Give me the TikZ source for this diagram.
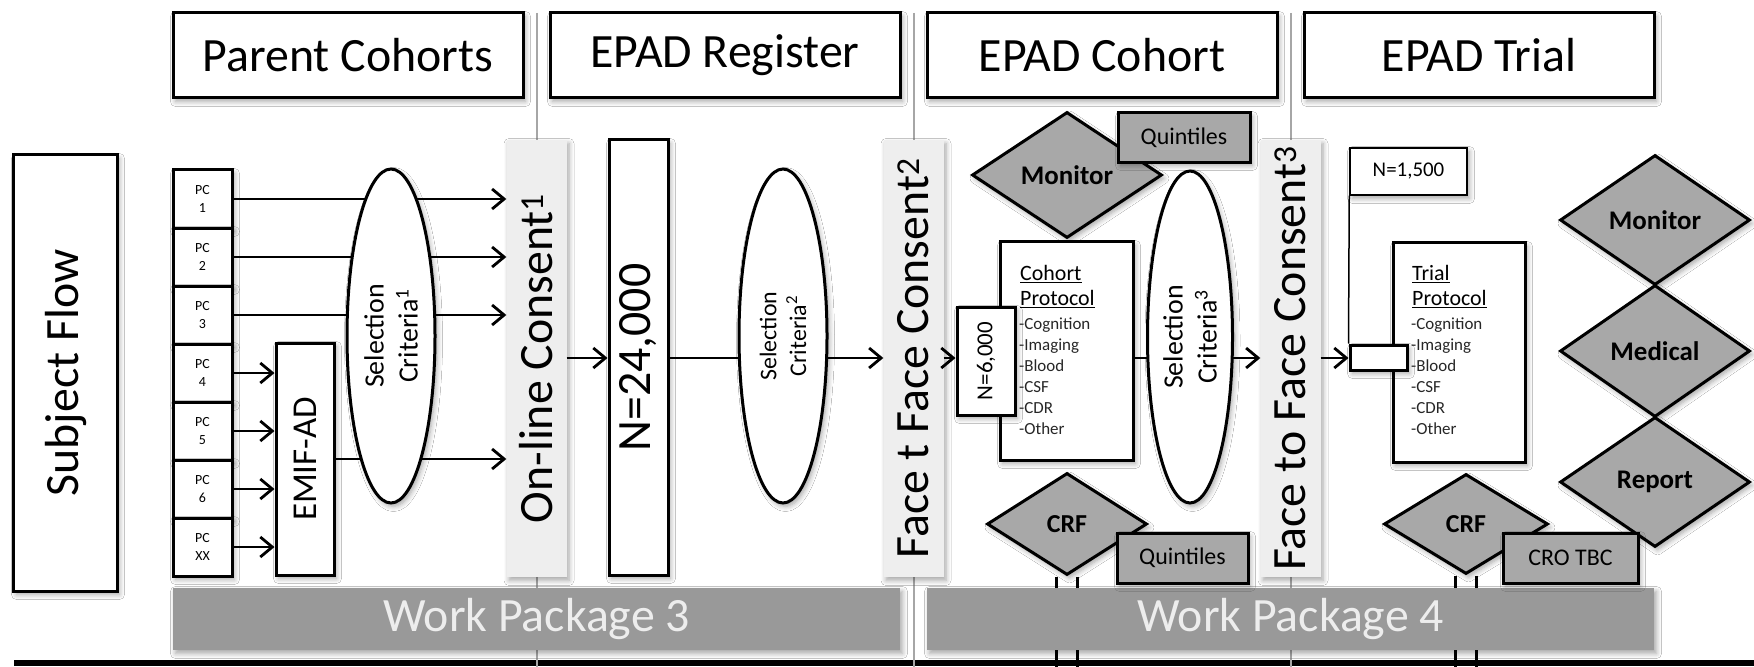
\documentclass[tikz,border=0pt]{standalone}
\usepackage{fontspec}
\setmainfont{Carlito}
\usetikzlibrary{arrows.meta,shapes.geometric,shadows.blur}
\definecolor{dgray}{HTML}{A8A8A8}
\definecolor{wpgray}{HTML}{999999}
\definecolor{cgray}{HTML}{EEEEEE}
\definecolor{sepgray}{HTML}{A6A6A6}
\begin{document}
\begin{tikzpicture}[x=1bp,y=-1bp,
  myshadow/.style={blur shadow={shadow xshift=2.5bp,shadow yshift=-3.5bp,shadow blur radius=5bp,shadow blur steps=6,shadow opacity=35}},
  bigtext/.style={font=\fontsize{48}{56}\selectfont},
  tbox/.style={draw=black,line width=3bp,fill=white,inner sep=0pt,myshadow},
  hdrbox/.style={tbox,bigtext,minimum width=350bp,minimum height=85bp},
  consbox/.style={fill=cgray,draw=none,rotate=90,bigtext,minimum width=437bp,minimum height=60bp,inner sep=0pt,myshadow},
  pcbox/.style={tbox,minimum width=59bp,minimum height=58bp,align=center,font=\fontsize{14}{19}\selectfont},
  selell/.style={ellipse,tbox,rotate=90,minimum width=334bp,minimum height=88bp,align=center},
  gdia/.style={diamond,draw=black,line width=3bp,fill=dgray,inner sep=0pt,font=\bfseries\fontsize{27}{32}\selectfont,myshadow},
  gbox/.style={draw=black,line width=3bp,fill=dgray,inner sep=0pt,font=\fontsize{24}{28}\selectfont,myshadow},
  wpbar/.style={fill=wpgray,draw=none,text=white!93!black,bigtext,minimum width=727bp,minimum height=62bp,inner sep=0pt,myshadow},
  arr/.style={line width=1.6bp,-{Straight Barb[length=12bp,width=20bp,line width=2.8bp]}},
  sepline/.style={draw=sepgray,line width=2bp},
  stemline/.style={line width=3bp},
  headtxt/.style={anchor=north west,inner sep=0pt,align=left,font=\fontsize{22}{25}\selectfont},
  listtxt/.style={anchor=north west,inner sep=0pt,align=left,font=\fontsize{17}{21}\selectfont,text=black!85}
]
\fill[white] (0,0) rectangle (1754,667);
\useasboundingbox (0,0) rectangle (1754,667);

% bottom line
\coordinate (bl) at (14,663);
\coordinate (br) at (1754,663);
\draw[line width=6.5bp] (bl) -- (br);

% separators
\foreach \s/\x in {1/536.5,2/913.5,3/1290.5}{
  \coordinate (s\s t) at (\x,13);
  \coordinate (s\s b) at (\x,667);
  \draw[sepline] (s\s t) -- (s\s b);
}

% CRF stems
\coordinate (st1) at (1067,667);
\coordinate (st2) at (1466,667);

% header boxes
\node[hdrbox] (h1) at (348,55.5) {Parent Cohorts};
\node[hdrbox] (h2) at (725,55.5) {EPAD Register};
\node[hdrbox] (h3) at (1102,55.5) {EPAD Cohort};
\node[hdrbox] (h4) at (1479,55.5) {EPAD Trial};

% stems drawn before WP bars
\node[gdia,minimum width=160bp,minimum height=102bp] (crf1) at (1067,524) {};
\node[gdia,minimum width=164bp,minimum height=100bp] (crf2) at (1466,524) {};
\draw[stemline] ([xshift=-10.5bp]crf1.south) -- ([xshift=-10.5bp]st1);
\draw[stemline] ([xshift=10.5bp]crf1.south) -- ([xshift=10.5bp]st1);
\draw[stemline] ([xshift=-10.5bp]crf2.south) -- ([xshift=-10.5bp]st2);
\draw[stemline] ([xshift=10.5bp]crf2.south) -- ([xshift=10.5bp]st2);

% work packages
\node[wpbar] (wp3) at (536.5,619) {Work Package 3};
\node[wpbar] (wp4) at (1290.5,619) {Work Package 4};

% consent boxes
\node[consbox] (c1) at (536.5,358.5) {On-line Consent\textsuperscript{1}};
\node[consbox] (c2) at (913.5,358.5) {Face t Face Consent\textsuperscript{2}};
\node[consbox] (c3) at (1290.5,358.5) {Face to Face Consent\textsuperscript{3}};

% subject flow
\node[tbox,rotate=90,bigtext,minimum width=436bp,minimum height=103bp] (sf) at (65.5,373) {Subject Flow};

% parent cohorts
\foreach \i/\t in {1/1,2/2,3/3,4/4,5/5,6/6,7/XX}{
  \node[pcbox] (pc\i) at (202.5,{141+58*\i}) {PC\\\t};
}
\node[tbox,rotate=90,minimum width=232bp,minimum height=58bp,font=\fontsize{35}{40}\selectfont] (emif) at (305,459) {EMIF-AD};

\foreach \i in {1,2,3}{ \draw[arr] (pc\i.east) -- (c1.north |- pc\i.east); }
\foreach \i in {4,5,6,7}{ \draw[arr] (pc\i.east) -- (emif.north |- pc\i.east); }
\draw[arr] (emif.south) -- (c1.north |- emif.south);

\node[selell,font=\fontsize{28}{34}\selectfont] (e1) at (391,336) {Selection\\Criteria\textsuperscript{1}};

% register
\coordinate (fy) at (0,358);
\node[tbox,rotate=90,bigtext,minimum width=435bp,minimum height=59bp] (n24) at (638.5,357.5) {N=24,000};
\draw[arr] (c1.south |- fy) -- (n24.north |- fy);
\draw[arr] (n24.south |- fy) -- (c2.north |- fy);
\node[selell,font=\fontsize{24}{30}\selectfont] (e2) at (783,336) {Selection\\Criteria\textsuperscript{2}};

% cohort
\node[gdia,minimum width=190bp,minimum height=126bp] (mon1) at (1067,175) {Monitor};
\node[gbox,minimum width=132bp,minimum height=49bp] (q1) at (1184,137.5) {Quintiles};
\node[tbox,minimum width=133bp,minimum height=218bp] (cp) at (1066.5,351) {};
\node[headtxt] (cph) at (1020,265) {\underline{Cohort}\\\underline{Protocol}};
\node[listtxt] (cpl) at (1019,318) {-Cognition\\-Imaging\\-Blood\\-CSF\\-CDR\\-Other};
\node[tbox,rotate=90,minimum width=108bp,minimum height=58bp,font=\fontsize{23}{28}\selectfont] (n6) at (986,361) {N=6,000};
\draw[arr] (c2.south |- fy) -- (n6.north |- fy);
\draw[arr] (cp.east |- fy) -- (c3.north |- fy);
\node[selell,minimum width=332bp,minimum height=85bp,font=\fontsize{28}{34}\selectfont] (e3) at (1190,337) {Selection\\Criteria\textsuperscript{3}};
\node[font=\bfseries\fontsize{26}{30}\selectfont] at (crf1) {CRF};
\node[gbox,minimum width=131bp,minimum height=50bp] (q2) at (1182.5,558) {Quintiles};

% trial
\node[draw=black,line width=1.5bp,fill=white,inner sep=0pt,minimum width=117bp,minimum height=47bp,font=\fontsize{21}{25}\selectfont,myshadow] (n15) at (1408.5,171.5) {N=1,500};
\node[tbox,minimum width=132bp,minimum height=219bp] (tp) at (1459,352.5) {};
\node[headtxt] (tph) at (1412,265) {\underline{Trial}\\\underline{Protocol}};
\node[listtxt] (tpl) at (1411,318) {-Cognition\\-Imaging\\-Blood\\-CSF\\-CDR\\-Other};
\node[tbox,minimum width=57bp,minimum height=25bp] (sb) at (1378.5,357.5) {};
\draw[line width=1.5bp] (n15.south west) -- (sb.north west);
\draw[arr] (c3.south |- fy) -- (sb.west |- fy);
\node[font=\bfseries\fontsize{26}{30}\selectfont] at (crf2) {CRF};
\node[gdia,minimum width=190bp,minimum height=130bp] (mon2) at (1655,220) {Monitor};
\node[gdia,minimum width=190bp,minimum height=132bp] (med) at (1655,351) {Medical};
\node[gdia,minimum width=190bp,minimum height=130bp] (rep) at (1655,482) {Report};
\node[gbox,minimum width=135bp,minimum height=50bp] (cro) at (1570.5,558) {CRO TBC};
\end{tikzpicture}
\end{document}
